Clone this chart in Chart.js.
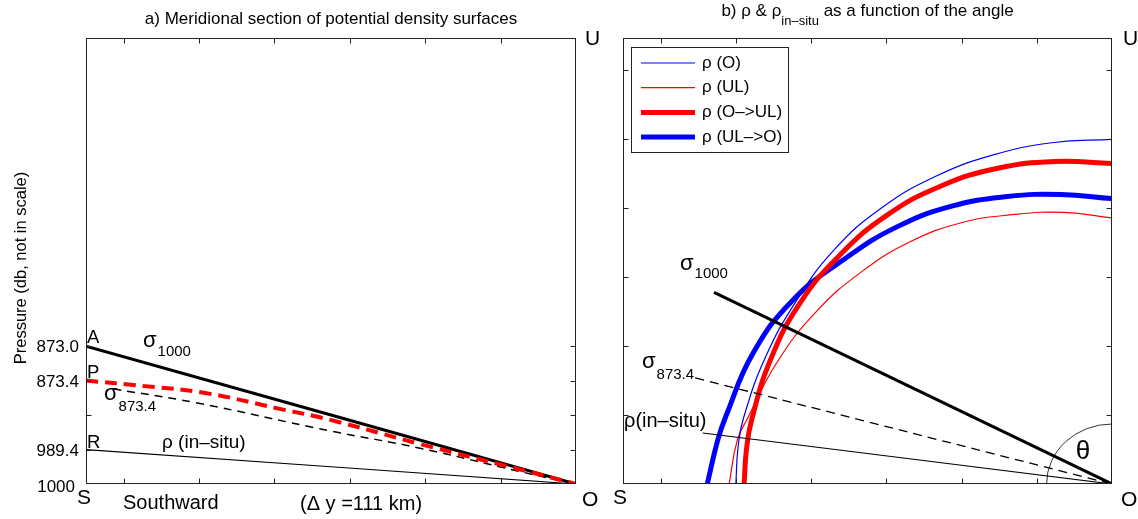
<!DOCTYPE html>
<html>
<head>
<meta charset="utf-8">
<script src="https://cdn.jsdelivr.net/npm/chart.js@4.4.0/dist/chart.umd.min.js"></script>
<style>
body { margin: 0; background: #fff; }
#wrap { position: relative; width: 1138px; height: 519px; }
canvas { position: absolute; top: 0; }
#ca { left: 0; }
#cb { left: 610px; }
</style>
</head>
<body>
<div id="wrap">
<canvas id="ca" width="610" height="519"></canvas>
<canvas id="cb" width="528" height="519"></canvas>
</div>
<script>
// shared x ticks (distance from O, not in scale)
var xTicks = [-6, -5, -4, -3, -2, -1];

// a) meridional section
var aTickY = [0, 0.5, 1, 1.5, 2];
var aTickLabels = ["1000", "989.4", "", "873.4", "873.0"];
var aSigma1000X = [-6.5, 0];
var aSigma1000Y = [2.0, 0];
var aRhoPathX = [-6.5, -5.72, -4.92, -3.93, -3.26, -2.07, -0.74, 0];
var aRhoPathY = [1.5, 1.42, 1.32, 1.09, 0.93, 0.58, 0.21, 0];
var aSigma873X = [-6.14, -5.05, -3.26, -2.07, -0.74, 0];
var aSigma873Y = [1.38, 1.18, 0.77, 0.52, 0.18, 0];
var aInsituX = [-6.5, 0];
var aInsituY = [0.5, 0];

// b) rho as a function of the angle
var bTickY = [1, 2, 3, 4, 5, 6];
var legendLabels = ["ρ (O)", "ρ (UL)", "ρ (O–>UL)", "ρ (UL–>O)"];
var rhoOX = [-5.00, -4.97, -4.90, -4.61, -4.20, -3.70, -3.07, -2.35, -1.59, -0.80, 0];
var rhoOY = [0, 0.54, 0.95, 1.83, 2.65, 3.39, 4.00, 4.46, 4.77, 4.95, 5.00];
var rhoULX = [-5.09, -4.98, -4.85, -4.45, -3.94, -3.34, -2.69, -2.00, -1.30, -0.64, 0];
var rhoULY = [0, 0.64, 0.94, 1.77, 2.49, 3.07, 3.51, 3.79, 3.91, 3.94, 3.86];
var rhoOtoULX = [-4.89, -4.86, -4.79, -4.54, -4.15, -3.62, -2.99, -2.28, -1.52, -0.76, 0];
var rhoOtoULY = [0, 0.49, 0.93, 1.80, 2.62, 3.32, 3.90, 4.32, 4.58, 4.68, 4.65];
var rhoULtoOX = [-5.38, -5.24, -5.13, -4.77, -4.24, -3.56, -2.86, -2.13, -1.39, -0.68, 0];
var rhoULtoOY = [0, 0.64, 0.99, 1.90, 2.67, 3.26, 3.73, 4.03, 4.17, 4.20, 4.14];
var bSigma1000X = [-5.29, 0];
var bSigma1000Y = [2.78, 0];
var bSigma873X = [-5.54, 0];
var bSigma873Y = [1.54, 0];
var bInsituX = [-5.44, 0];
var bInsituY = [0.74, 0];

var FONT = '"Liberation Sans", Arial, sans-serif';

function pts(xs, ys) {
  return xs.map(function (x, i) { return { x: x, y: ys[i] }; });
}

function txt(ctx, s, x, y, size, align) {
  ctx.font = size + "px " + FONT;
  ctx.textAlign = align || "left";
  ctx.textBaseline = "alphabetic";
  ctx.fillStyle = "#000";
  ctx.fillText(s, x, y);
  return ctx.measureText(s).width;
}

// letter with subscript
function subTxt(ctx, base, sub, x, y, size, subSize, drop) {
  var w = txt(ctx, base, x, y, size);
  txt(ctx, sub, x + w + 1, y + drop, subSize);
}

function frameAndTicks(chart, yTicks) {
  var ctx = chart.ctx, a = chart.chartArea;
  var sx = chart.scales.x, sy = chart.scales.y;
  var l = Math.round(a.left) + 0.5, r = Math.round(a.right) - 0.5;
  var t = Math.round(a.top) + 0.5, b = Math.round(a.bottom) - 0.5;
  ctx.save();
  ctx.strokeStyle = "#222";
  ctx.lineWidth = 1;
  ctx.strokeRect(l, t, r - l, b - t);
  ctx.beginPath();
  xTicks.forEach(function (v) {
    var px = Math.round(sx.getPixelForValue(v)) + 0.5;
    ctx.moveTo(px, b); ctx.lineTo(px, b - 5);
    ctx.moveTo(px, t); ctx.lineTo(px, t + 5);
  });
  yTicks.forEach(function (v) {
    var py = Math.round(sy.getPixelForValue(v)) + 0.5;
    ctx.moveTo(l, py); ctx.lineTo(l + 5, py);
    ctx.moveTo(r, py); ctx.lineTo(r - 5, py);
  });
  ctx.stroke();
  ctx.restore();
}

var panelA = {
  id: "panelA",
  afterDatasetsDraw: function (chart) {
    var ctx = chart.ctx, a = chart.chartArea, sy = chart.scales.y;
    frameAndTicks(chart, aTickY.slice(1));
    ctx.save();
    txt(ctx, "a) Meridional section of potential density surfaces", (a.left + a.right) / 2, 24, 17, "center");
    aTickY.forEach(function (v, i) {
      var py = sy.getPixelForValue(v);
      if (i === 0) txt(ctx, aTickLabels[i], 75, py + 8, 17, "right");
      else txt(ctx, aTickLabels[i], 79, py + 6, 17, "right");
    });
    ctx.save();
    ctx.translate(26, 268);
    ctx.rotate(-Math.PI / 2);
    txt(ctx, "Pressure (db, not in scale)", 0, 0, 16.5, "center");
    ctx.restore();
    txt(ctx, "A", 87, 343, 18.5);
    txt(ctx, "P", 87, 378, 18.5);
    txt(ctx, "R", 87, 448, 18.5);
    subTxt(ctx, "σ", "1000", 143, 347, 22, 15, 9);
    subTxt(ctx, "σ", "873.4", 104, 400, 22, 15, 11);
    txt(ctx, "ρ (in–situ)", 162, 448, 19);
    txt(ctx, "S", 84, 504, 21, "center");
    txt(ctx, "Southward", 123, 509, 20);
    txt(ctx, "(Δ y =111 km)", 300, 510, 20);
    txt(ctx, "O", 582, 506, 21);
    txt(ctx, "U", 585, 45, 21);
    ctx.restore();
  }
};

var panelB = {
  id: "panelB",
  afterDatasetsDraw: function (chart) {
    var ctx = chart.ctx, a = chart.chartArea;
    var sx = chart.scales.x, sy = chart.scales.y;
    frameAndTicks(chart, bTickY);
    ctx.save();
    // angle mark around O
    var cx = sx.getPixelForValue(0), cy = sy.getPixelForValue(0);
    var rx = cx - sx.getPixelForValue(-0.87), ry = cy - sy.getPixelForValue(0.87);
    ctx.beginPath();
    ctx.ellipse(cx, cy, rx, ry, 0, Math.PI, 1.5 * Math.PI);
    ctx.strokeStyle = "#000";
    ctx.lineWidth = 0.8;
    ctx.stroke();
    // title with subscript, centred on the axes
    ctx.font = "17px " + FONT;
    var w1 = ctx.measureText("b) ρ & ρ").width;
    var w3 = ctx.measureText(" as a function of the angle").width;
    ctx.font = "13px " + FONT;
    var w2 = ctx.measureText("in–situ").width;
    var x0 = (a.left + a.right) / 2 - (w1 + w2 + w3) / 2;
    txt(ctx, "b) ρ & ρ", x0, 16, 17);
    txt(ctx, "in–situ", x0 + w1, 25, 13);
    txt(ctx, " as a function of the angle", x0 + w1 + w2, 16, 17);
    // legend
    ctx.fillStyle = "#fff";
    ctx.fillRect(21, 47, 157, 105);
    ctx.strokeStyle = "#222";
    ctx.lineWidth = 1;
    ctx.strokeRect(21.5, 47.5, 157, 105);
    chart.data.datasets.forEach(function (ds) {
      if (ds.legendRow === undefined) return;
      var y = 63 + ds.legendRow * 24.7;
      ctx.beginPath();
      ctx.moveTo(31, y); ctx.lineTo(85, y);
      ctx.strokeStyle = ds.borderColor;
      ctx.lineWidth = ds.borderWidth;
      ctx.stroke();
      ctx.font = "17px " + FONT;
      ctx.fillStyle = "#000";
      ctx.textAlign = "left";
      ctx.textBaseline = "middle";
      ctx.fillText(ds.label, 92, y);
    });
    subTxt(ctx, "σ", "1000", 70, 270, 22, 15, 8);
    subTxt(ctx, "σ", "873.4", 32, 368, 22, 15, 11);
    txt(ctx, "ρ(in–situ)", 14, 427, 20);
    ctx.font = "26px " + FONT;
    ctx.textAlign = "center";
    ctx.textBaseline = "middle";
    ctx.fillText("θ", 473, 452);
    txt(ctx, "S", 3, 504, 21);
    txt(ctx, "O", 511, 506, 21);
    txt(ctx, "U", 513, 45, 21);
    ctx.restore();
  }
};

function baseOptions(padLeft, padRight) {
  return {
    responsive: false,
    animation: false,
    layout: { padding: { left: padLeft, right: padRight, top: 38, bottom: 35 } },
    plugins: { legend: { display: false }, tooltip: { enabled: false } },
    elements: { point: { radius: 0 }, line: { tension: 0.45 } },
    scales: {
      x: { type: "linear", min: -6.5, max: 0, display: false },
      y: { type: "linear", min: 0, max: 6.47, display: false }
    }
  };
}

new Chart(document.getElementById("ca"), {
  type: "line",
  data: {
    datasets: [
      { label: "rho path", data: pts(aRhoPathX, aRhoPathY), borderColor: "#ff0000", borderWidth: 4, borderDash: [12, 7] },
      { label: "sigma1000", data: pts(aSigma1000X, aSigma1000Y), borderColor: "#000", borderWidth: 3 },
      { label: "sigma873.4", data: pts(aSigma873X, aSigma873Y), borderColor: "#000", borderWidth: 1.5, borderDash: [8, 6] },
      { label: "in-situ", data: pts(aInsituX, aInsituY), borderColor: "#000", borderWidth: 1.2 }
    ]
  },
  options: baseOptions(86, 34),
  plugins: [panelA]
});

new Chart(document.getElementById("cb"), {
  type: "line",
  data: {
    datasets: [
      { label: "sigma1000", data: pts(bSigma1000X, bSigma1000Y), borderColor: "#000", borderWidth: 3 },
      { label: "sigma873.4", data: pts(bSigma873X, bSigma873Y), borderColor: "#000", borderWidth: 1.3, borderDash: [9, 6] },
      { label: "in-situ", data: pts(bInsituX, bInsituY), borderColor: "#000", borderWidth: 1.2 },
      { label: legendLabels[0], legendRow: 0, data: pts(rhoOX, rhoOY), borderColor: "#0000ff", borderWidth: 1.2 },
      { label: legendLabels[1], legendRow: 1, data: pts(rhoULX, rhoULY), borderColor: "#ff0000", borderWidth: 1.2 },
      { label: legendLabels[2], legendRow: 2, data: pts(rhoOtoULX, rhoOtoULY), borderColor: "#ff0000", borderWidth: 5 },
      { label: legendLabels[3], legendRow: 3, data: pts(rhoULtoOX, rhoULtoOY), borderColor: "#0000ff", borderWidth: 5 }
    ]
  },
  options: baseOptions(13, 26),
  plugins: [panelB]
});
</script>
</body>
</html>
